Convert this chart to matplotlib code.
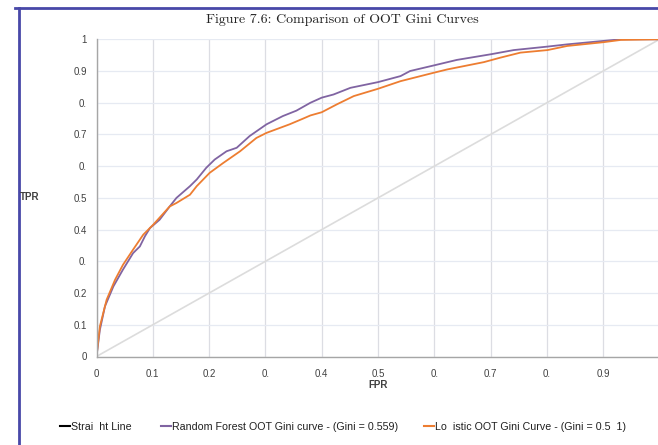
import matplotlib
matplotlib.use('Agg')
import matplotlib.pyplot as plt
from matplotlib.lines import Line2D

plt.rcParams['font.family'] = ['Liberation Sans', 'DejaVu Sans']

# random forest OOT curve
rf_fpr = [0, 0.006, 0.015, 0.030, 0.047, 0.065, 0.077, 0.086, 0.095, 0.112, 0.130, 0.142,
          0.166, 0.178, 0.195, 0.210, 0.231, 0.249, 0.272, 0.302, 0.331, 0.355, 0.380, 0.400,
          0.421, 0.451, 0.500, 0.540, 0.557, 0.600, 0.640, 0.701, 0.741, 0.801, 0.836, 0.901,
          0.931, 1.0]
rf_tpr = [0, 0.084, 0.158, 0.221, 0.274, 0.326, 0.347, 0.379, 0.405, 0.431, 0.473, 0.500,
          0.537, 0.558, 0.595, 0.621, 0.647, 0.658, 0.695, 0.732, 0.758, 0.775, 0.800, 0.816,
          0.826, 0.847, 0.865, 0.884, 0.900, 0.918, 0.935, 0.953, 0.966, 0.977, 0.984, 0.995,
          1.0, 1.0]

# logistic OOT curve
lr_fpr = [0, 0.006, 0.018, 0.033, 0.047, 0.065, 0.083, 0.101, 0.130, 0.142, 0.166, 0.178,
          0.201, 0.225, 0.255, 0.284, 0.302, 0.343, 0.367, 0.380, 0.400, 0.427, 0.457, 0.500,
          0.540, 0.600, 0.623, 0.688, 0.717, 0.753, 0.801, 0.836, 0.901, 0.931, 1.0]
lr_tpr = [0, 0.095, 0.179, 0.242, 0.289, 0.337, 0.384, 0.416, 0.473, 0.484, 0.510, 0.537,
          0.579, 0.610, 0.647, 0.689, 0.705, 0.732, 0.750, 0.760, 0.770, 0.795, 0.821, 0.844,
          0.868, 0.895, 0.905, 0.928, 0.942, 0.958, 0.966, 0.979, 0.991, 0.998, 1.0]

straight = [0, 1]

ticks = [0, 0.1, 0.2, 0.3, 0.4, 0.5, 0.6, 0.7, 0.8, 0.9, 1]
xtick_labels = ['0', '0.1', '0.2', '0.', '0.4', '0.5', '0.', '0.7', '0.', '0.9', '']
ytick_labels = ['0', '0.1', '0.2', '0.', '0.4', '0.5', '0.', '0.7', '0.', '0.9', '1']

legend_labels = ['Strai  ht Line',
                 'Random Forest OOT Gini curve - (Gini = 0.559)',
                 'Lo  istic OOT Gini Curve - (Gini = 0.5  1)']

fig = plt.figure(figsize=(6.58, 4.45), dpi=100)
ax = fig.add_axes([96.5/658, 1-356.5/445, 563/658, 317.2/445])

ax.plot(straight, straight, color='#dcdcdc', lw=1.2)
ax.plot(rf_fpr, rf_tpr, color='#8064a2', lw=1.3)
ax.plot(lr_fpr, lr_tpr, color='#ed7d31', lw=1.3)

ax.set_xlim(0, 1)
ax.set_ylim(0, 1)
ax.set_xticks(ticks)
ax.set_xticklabels(xtick_labels)
ax.set_yticks(ticks)
ax.set_yticklabels(ytick_labels)
ax.tick_params(length=0, labelsize=7, colors='#404040')
ax.tick_params(axis='x', pad=9)
ax.tick_params(axis='y', pad=7)
ax.grid(axis='y', color='#e6eaf2', lw=0.9)
ax.grid(axis='x', color='#dcdde3', lw=0.9)
ax.set_axisbelow(True)
for s in ['top', 'right']:
    ax.spines[s].set_visible(False)
for s in ['left', 'bottom']:
    ax.spines[s].set_color('#a6a6a6')
    ax.spines[s].set_linewidth(1.0)

fig.text(378/658, 1-385/445, 'FPR', fontsize=7, fontweight='bold', color='#404040',
         ha='center', va='center')
fig.text(20/658, 1-197/445, 'TPR', fontsize=7, fontweight='bold', color='#404040',
         ha='left', va='center')

fig.text(342/658, 1-20/445, 'Figure 7.6: Comparison of OOT Gini Curves', family='cmr10',
         fontsize=10, ha='center', va='center', color='#222222')

# page border lines
fig.add_artist(Line2D([19/658, 19/658], [0, 1-8/445], color='#4848a8', lw=2))
fig.add_artist(Line2D([15/658, 1], [1-8/445, 1-8/445], color='#4848a8', lw=2))

# legend, one entry at a time
leg_x = [60/658, 161/658, 424/658]
leg_col = ['black', '#8064a2', '#ed7d31']
for x, c, lab in zip(leg_x, leg_col, legend_labels):
    h = Line2D([0], [0], color=c, lw=1.5)
    lg = fig.legend([h], [lab], loc='center left', bbox_to_anchor=(x, 1-427/445),
                    frameon=False, fontsize=7.7, handlelength=0.9, handletextpad=0.1,
                    borderpad=0, borderaxespad=0)
    for t in lg.get_texts():
        t.set_color('#202020')

fig.savefig('out.png', dpi=100)
